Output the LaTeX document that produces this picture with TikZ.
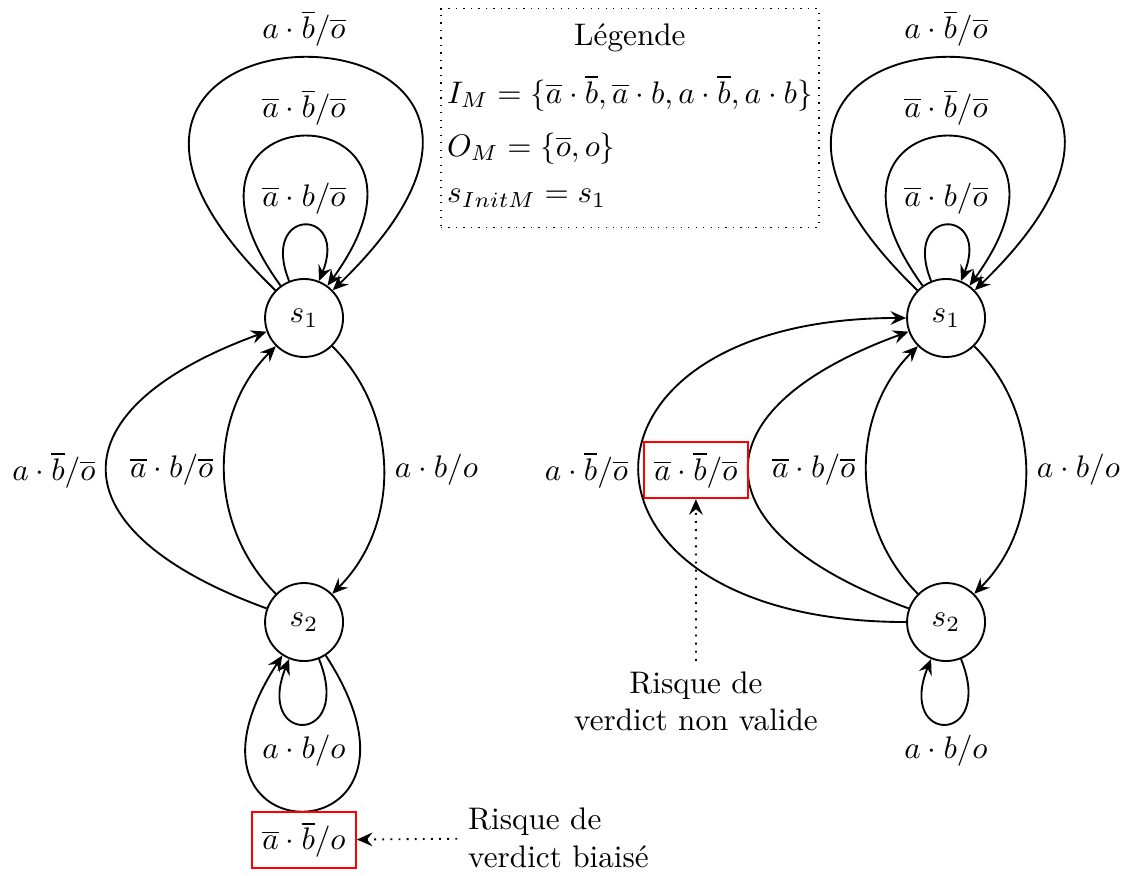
\documentclass[tikz,border=0pt]{standalone}
\usepackage{amsmath,amssymb}
\usepackage{tikz}
\usetikzlibrary{arrows.meta}

\begin{document}
\begin{tikzpicture}[>={Stealth[length=5pt,width=4.4pt,inset=1.8pt]},
  etat/.style={circle,draw,semithick,minimum size=25pt,inner sep=0pt},
  trans/.style={->,semithick},
  risque/.style={draw=red,semithick},
  renvoi/.style={->,dotted,semithick}]
  \useasboundingbox (0,0) rectangle (12.684,-9.857);
  % automate de gauche
  \node[etat] (L1) at (3.425,-3.582) {$s_1$};
  \node[etat] (L2) at (3.425,-7.007) {$s_2$};
  \draw[trans] (L1) to[out=112,in=68,min distance=9mm] node[above] {$\overline{a}\cdot b/\overline{o}$} (L1);
  \draw[trans] (L1) to[out=126,in=54,min distance=2.77cm] node[above] {$\overline{a}\cdot\overline{b}/\overline{o}$} (L1);
  \draw[trans] (L1) to[out=136,in=44,min distance=5.03cm] node[above] {$a\cdot\overline{b}/\overline{o}$} (L1);
  \draw[trans] (L1) to[bend left=45] node[auto] {$a\cdot b/o$} (L2);
  \draw[trans] (L2) to[bend left=45] node[auto] {$\overline{a}\cdot b/\overline{o}$} (L1);
  \draw[trans] (L2) to[out=160,in=200,looseness=2.1] node[auto] {$a\cdot\overline{b}/\overline{o}$} (L1);
  \draw[trans] (L2) to[out=-68,in=-112,min distance=10.5mm] node[below] {$a\cdot b/o$} (L2);
  \draw[trans] (L2) to[out=-57,in=-123,min distance=2.78cm] node[below,risque] (biaisA) {$\overline{a}\cdot\overline{b}/o$} (L2);
  \node[anchor=west,align=left] (risqA) at (5.15,-9.44) {Risque de\\verdict biaisé};
  \draw[renvoi] (risqA) -- (biaisA);
  % automate de droite
  \node[etat] (R1) at (10.657,-3.582) {$s_1$};
  \node[etat] (R2) at (10.657,-7.007) {$s_2$};
  \draw[trans] (R1) to[out=112,in=68,min distance=9mm] node[above] {$\overline{a}\cdot b/\overline{o}$} (R1);
  \draw[trans] (R1) to[out=126,in=54,min distance=2.77cm] node[above] {$\overline{a}\cdot\overline{b}/\overline{o}$} (R1);
  \draw[trans] (R1) to[out=136,in=44,min distance=5.03cm] node[above] {$a\cdot\overline{b}/\overline{o}$} (R1);
  \draw[trans] (R1) to[bend left=45] node[auto] {$a\cdot b/o$} (R2);
  \draw[trans] (R2) to[bend left=45] node[auto] {$\overline{a}\cdot b/\overline{o}$} (R1);
  \draw[trans] (R2) to[out=160,in=200,looseness=2.1] node[auto,risque] (biaisB) {$\overline{a}\cdot\overline{b}/\overline{o}$} (R1);
  \draw[trans] (R2) to[out=180,in=180,looseness=3] node[auto] {$a\cdot\overline{b}/\overline{o}$} (R1);
  \draw[trans] (R2) to[out=-68,in=-112,min distance=10.5mm] node[below] {$a\cdot b/o$} (R2);
  \node[align=center] (risqB) at (7.84,-7.903) {Risque de\\verdict non valide};
  \draw[renvoi] (risqB) -- (biaisB);
  % legende
  \node[draw,dotted,inner xsep=2pt,anchor=north west] (leg) at (4.96,-0.09) {%
    \begin{tabular}{@{}l@{}}
      \multicolumn{1}{@{}c@{}}{Légende}\\[6pt]
      $I_M=\{\overline{a}\cdot\overline{b},\overline{a}\cdot b,a\cdot\overline{b},a\cdot b\}$\\[5pt]
      $O_M=\{\overline{o},o\}$\\[3pt]
      $s_{InitM}=s_1$\rule[-4.5pt]{0pt}{0pt}
    \end{tabular}};
\end{tikzpicture}
\end{document}
